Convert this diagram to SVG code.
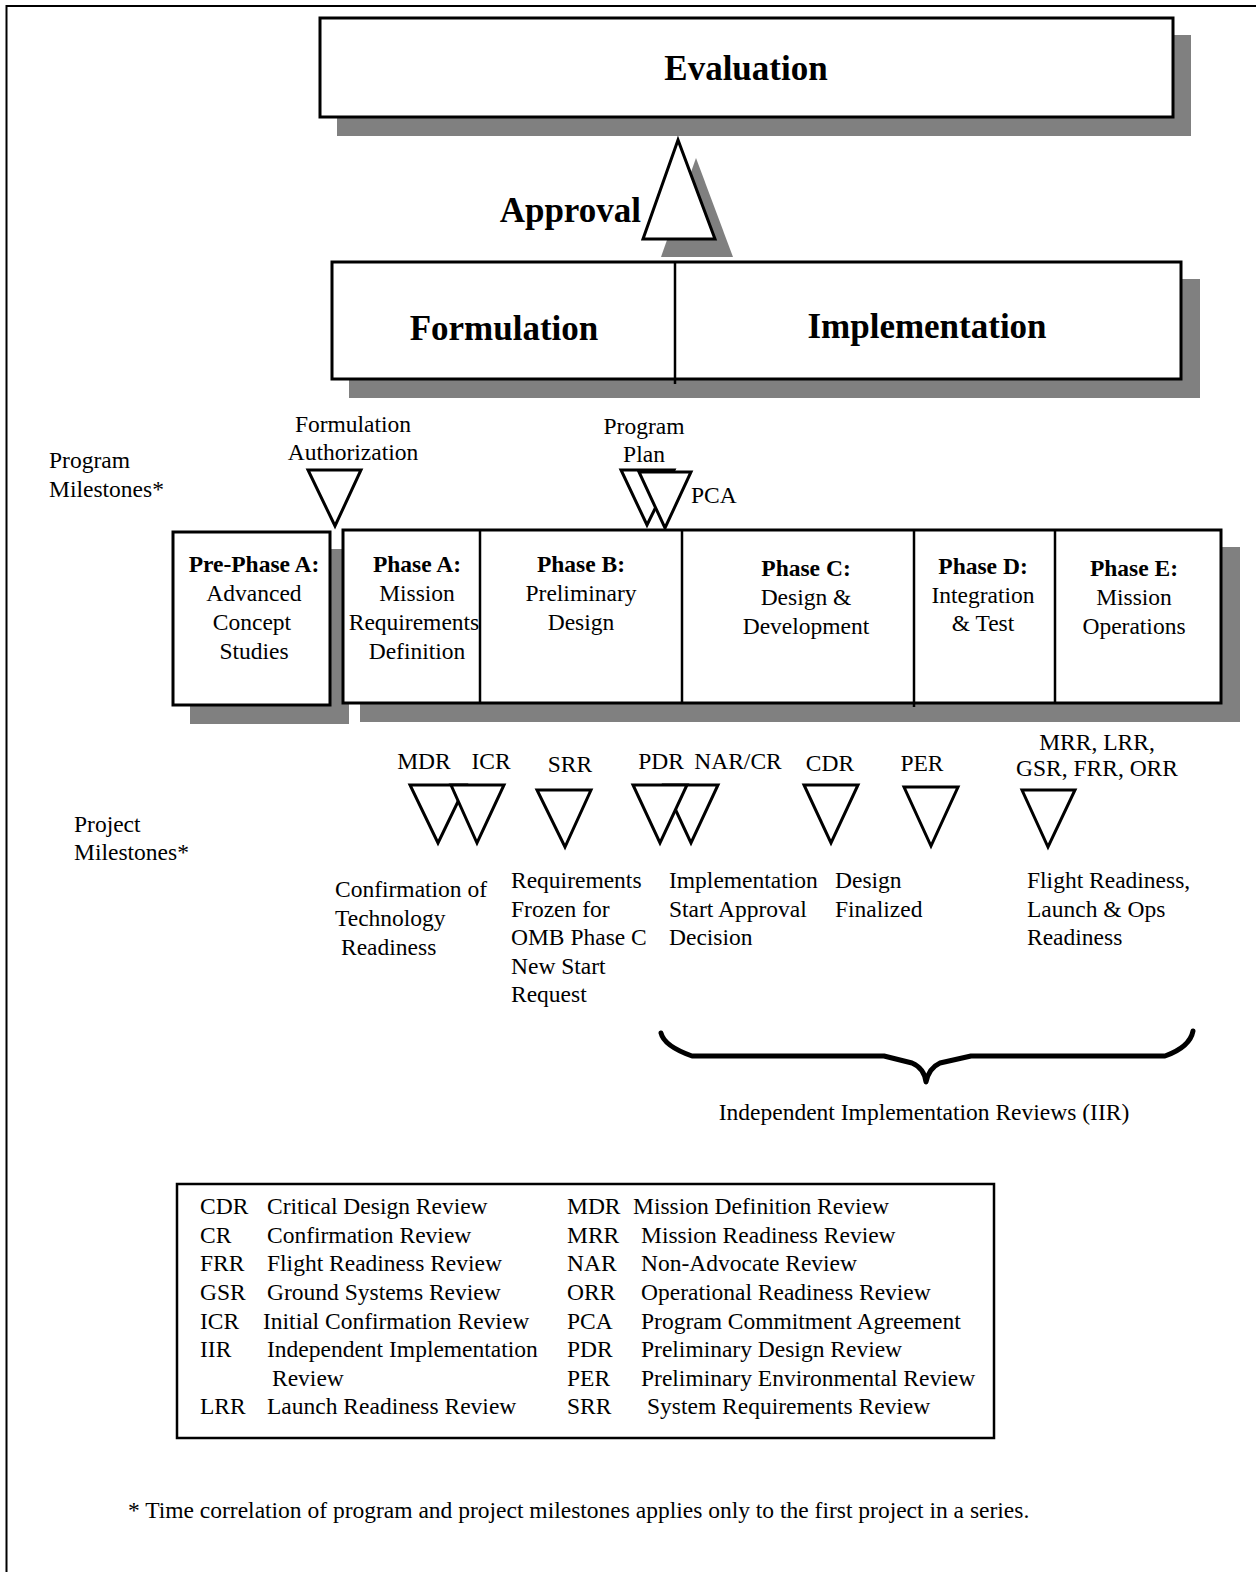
<svg xmlns="http://www.w3.org/2000/svg" width="1256" height="1572" viewBox="0 0 1256 1572">
<style>
  text { font-family: "Liberation Serif", "Times New Roman", serif; fill: #000; }
  .t { font-size: 23.5px; }
  .tc { font-size: 23.5px; text-anchor: middle; }
  .bc { font-size: 23.5px; font-weight: bold; text-anchor: middle; }
  .big { font-size: 35px; font-weight: bold; text-anchor: middle; }
  .box { fill: #fff; stroke: #000; stroke-width: 3; }
  .shadow { fill: #808080; stroke: none; }
  .tri { fill: #fff; stroke: #000; stroke-width: 3; stroke-linejoin: miter; }
  .div { stroke: #000; stroke-width: 2.5; }
</style>
<rect x="0" y="0" width="1256" height="1572" fill="#fff"/>
<path d="M6.5,1572 V6 H1256" fill="none" stroke="#000" stroke-width="2"/>

<g id="evaluation">
  <rect class="shadow" x="337" y="35" width="854" height="101"/>
  <rect class="box" x="320" y="18" width="853" height="99"/>
  <text class="big" x="746" y="80">Evaluation</text>
</g>

<g id="approval">
  <polygon class="shadow" points="696,158 661,257 733,257"/>
  <polygon class="tri" points="678,140 643,239 715,239"/>
  <text x="641" y="222" style="font-size:35px;font-weight:bold;text-anchor:end">Approval</text>
</g>

<g id="formulation-implementation">
  <rect class="shadow" x="349" y="279" width="851" height="119"/>
  <rect class="box" x="332" y="262" width="849" height="117"/>
  <line class="div" x1="675" y1="262" x2="675" y2="384"/>
  <text class="big" x="504" y="340">Formulation</text>
  <text class="big" x="927" y="338">Implementation</text>
</g>

<g id="program-milestones-label">
  <text class="t" x="49" y="468">Program</text>
  <text class="t" x="49" y="497">Milestones*</text>
</g>
<g id="project-milestones-label">
  <text class="t" x="74" y="832">Project</text>
  <text class="t" x="74" y="860">Milestones*</text>
</g>

<g id="formulation-authorization">
  <text class="tc" x="353" y="432">Formulation</text>
  <text class="tc" x="353" y="460">Authorization</text>
  <polygon class="tri" points="308,470 361,470 335,526"/>
</g>

<g id="program-plan">
  <text class="tc" x="644" y="434">Program</text>
  <text class="tc" x="644" y="462">Plan</text>
  <polygon class="tri" points="621,470 674,470 647,525"/>
</g>
<g id="pca">
  <polygon class="tri" points="639,472 691,472 665,528"/>
  <text class="t" x="691" y="503">PCA</text>
</g>

<g id="pre-phase-a">
  <rect class="shadow" x="190" y="549" width="159" height="175"/>
  <rect class="box" x="173" y="532" width="157" height="173"/>
  <text class="bc" x="254" y="572">Pre-Phase A:</text>
  <text class="tc" x="254" y="601">Advanced</text>
  <text class="tc" x="252" y="630">Concept</text>
  <text class="tc" x="254" y="659">Studies</text>
</g>

<g id="phases">
  <rect class="shadow" x="360" y="547" width="880" height="175"/>
  <rect class="box" x="343" y="530" width="878" height="173"/>
  <line class="div" x1="480" y1="530" x2="480" y2="703"/>
  <line class="div" x1="682" y1="530" x2="682" y2="703"/>
  <line class="div" x1="914" y1="530" x2="914" y2="707"/>
  <line class="div" x1="1055" y1="530" x2="1055" y2="703"/>
</g>
<g id="phase-a">
  <text class="bc" x="417" y="572">Phase A:</text>
  <text class="tc" x="417" y="601">Mission</text>
  <text class="tc" x="414" y="630">Requirements</text>
  <text class="tc" x="417" y="659">Definition</text>
</g>
<g id="phase-b">
  <text class="bc" x="581" y="572">Phase B:</text>
  <text class="tc" x="581" y="601">Preliminary</text>
  <text class="tc" x="581" y="630">Design</text>
</g>
<g id="phase-c">
  <text class="bc" x="806" y="576">Phase C:</text>
  <text class="tc" x="806" y="605">Design &amp;</text>
  <text class="tc" x="806" y="634">Development</text>
</g>
<g id="phase-d">
  <text class="bc" x="983" y="574">Phase D:</text>
  <text class="tc" x="983" y="603">Integration</text>
  <text class="tc" x="983" y="631">&amp; Test</text>
</g>
<g id="phase-e">
  <text class="bc" x="1134" y="576">Phase E:</text>
  <text class="tc" x="1134" y="605">Mission</text>
  <text class="tc" x="1134" y="634">Operations</text>
</g>

<g id="mdr">
  <text class="tc" x="424" y="769">MDR</text>
  <polygon class="tri" points="410,785 466,785 438,843"/>
</g>
<g id="icr">
  <text class="tc" x="491" y="769">ICR</text>
  <polygon class="tri" points="451,785 504,785 477,843"/>
</g>
<g id="confirmation-text">
  <text class="t" x="335" y="897">Confirmation of</text>
  <text class="t" x="335" y="926">Technology</text>
  <text class="t" x="341" y="955">Readiness</text>
</g>

<g id="srr">
  <text class="tc" x="570" y="772">SRR</text>
  <polygon class="tri" points="537,790 591,790 565,847"/>
  <text class="t" x="511" y="888">Requirements</text>
  <text class="t" x="511" y="917">Frozen for</text>
  <text class="t" x="511" y="945">OMB Phase C</text>
  <text class="t" x="511" y="974">New Start</text>
  <text class="t" x="511" y="1002">Request</text>
</g>

<g id="nar-cr">
  <text class="tc" x="738" y="769">NAR/CR</text>
  <polygon class="tri" points="664,785 718,785 691,843"/>
</g>
<g id="pdr">
  <text class="tc" x="661" y="769">PDR</text>
  <polygon class="tri" points="633,785 687,785 660,843"/>
</g>
<g id="implementation-text">
  <text class="t" x="669" y="888">Implementation</text>
  <text class="t" x="669" y="917">Start Approval</text>
  <text class="t" x="669" y="945">Decision</text>
</g>

<g id="cdr">
  <text class="tc" x="830" y="771">CDR</text>
  <polygon class="tri" points="804,785 858,785 831,843"/>
  <text class="t" x="835" y="888">Design</text>
  <text class="t" x="835" y="917">Finalized</text>
</g>

<g id="per">
  <text class="tc" x="922" y="771">PER</text>
  <polygon class="tri" points="904,787 958,787 931,846"/>
</g>

<g id="mrr">
  <text class="tc" x="1097" y="750">MRR, LRR,</text>
  <text class="tc" x="1097" y="776">GSR, FRR, ORR</text>
  <polygon class="tri" points="1022,790 1075,790 1048,847"/>
  <text class="t" x="1027" y="888">Flight Readiness,</text>
  <text class="t" x="1027" y="917">Launch &amp; Ops</text>
  <text class="t" x="1027" y="945">Readiness</text>
</g>

<g id="iir-brace">
  <path d="M661,1033 Q664,1046 692,1056 L884,1056 L912,1063 Q924,1068 926,1082 Q929,1068 940,1063 L971,1056 L1165,1056 Q1190,1047 1193,1031" fill="none" stroke="#000" stroke-width="5" stroke-linecap="round" stroke-linejoin="round"/>
  <text class="tc" x="924" y="1120">Independent Implementation Reviews (IIR)</text>
</g>

<g id="legend">
  <rect x="177" y="1184" width="817" height="254" fill="#fff" stroke="#000" stroke-width="2.5"/>
  <text class="t" x="200" y="1214">CDR</text><text class="t" x="267" y="1214">Critical Design Review</text>
  <text class="t" x="200" y="1243">CR</text><text class="t" x="267" y="1243">Confirmation Review</text>
  <text class="t" x="200" y="1271">FRR</text><text class="t" x="267" y="1271">Flight Readiness Review</text>
  <text class="t" x="200" y="1300">GSR</text><text class="t" x="267" y="1300">Ground Systems Review</text>
  <text class="t" x="200" y="1329">ICR</text><text class="t" x="263" y="1329">Initial Confirmation Review</text>
  <text class="t" x="200" y="1357">IIR</text><text class="t" x="267" y="1357">Independent Implementation</text>
  <text class="t" x="272" y="1386">Review</text>
  <text class="t" x="200" y="1414">LRR</text><text class="t" x="267" y="1414">Launch Readiness Review</text>

  <text class="t" x="567" y="1214">MDR</text><text class="t" x="633" y="1214">Mission Definition Review</text>
  <text class="t" x="567" y="1243">MRR</text><text class="t" x="641" y="1243">Mission Readiness Review</text>
  <text class="t" x="567" y="1271">NAR</text><text class="t" x="641" y="1271">Non-Advocate Review</text>
  <text class="t" x="567" y="1300">ORR</text><text class="t" x="641" y="1300">Operational Readiness Review</text>
  <text class="t" x="567" y="1329">PCA</text><text class="t" x="641" y="1329">Program Commitment Agreement</text>
  <text class="t" x="567" y="1357">PDR</text><text class="t" x="641" y="1357">Preliminary Design Review</text>
  <text class="t" x="567" y="1386">PER</text><text class="t" x="641" y="1386">Preliminary Environmental Review</text>
  <text class="t" x="567" y="1414">SRR</text><text class="t" x="647" y="1414">System Requirements Review</text>
</g>

<g id="footnote">
  <text class="t" x="128" y="1518">* Time correlation of program and project milestones applies only to the first project in a series.</text>
</g>
</svg>
